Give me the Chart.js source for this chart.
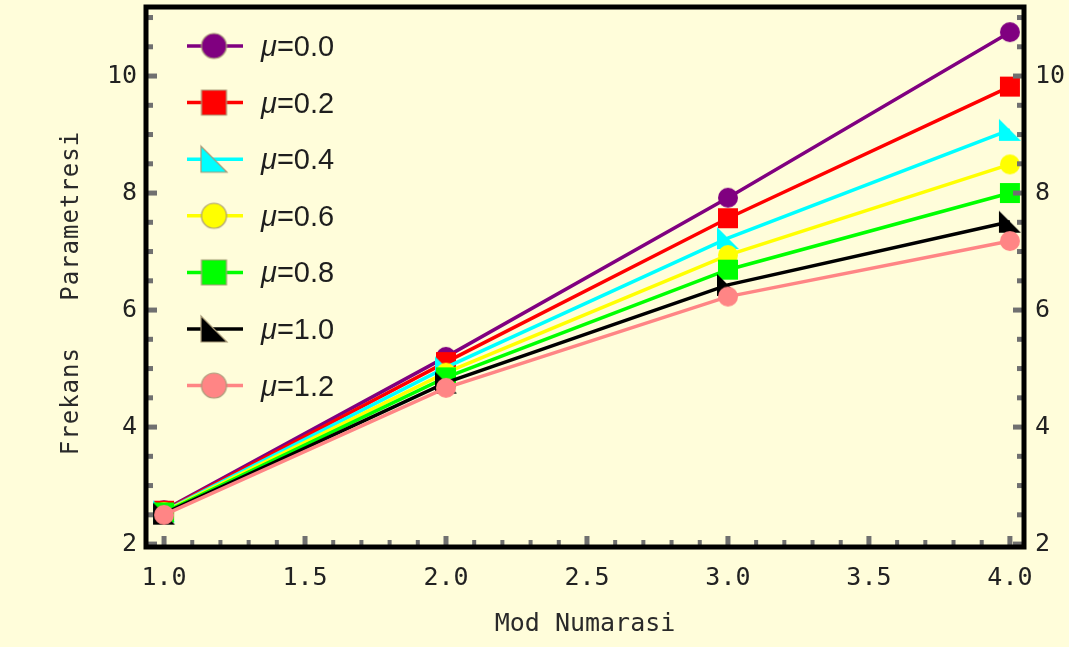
<!DOCTYPE html>
<html>
<head>
<meta charset="utf-8">
<script src="https://cdn.jsdelivr.net/npm/chart.js@4.4.1/dist/chart.umd.min.js"></script>
<style>
  html, body { margin: 0; padding: 0; background: #FFFDDA; }
  #wrap { width: 1069px; height: 647px; }
</style>
</head>
<body>
<div id="wrap"><canvas id="chart" width="1069" height="647"></canvas></div>
<script>
// ==================== DATA ====================
const modes = [1, 2, 3, 4];
const muLabels = ['0.0', '0.2', '0.4', '0.6', '0.8', '1.0', '1.2'];
const mu00 = [2.58, 5.20, 7.92, 10.75];
const mu02 = [2.57, 5.11, 7.57, 9.82];
const mu04 = [2.56, 5.02, 7.23, 9.08];
const mu06 = [2.55, 4.93, 6.94, 8.49];
const mu08 = [2.54, 4.85, 6.69, 8.00];
const mu10 = [2.52, 4.76, 6.43, 7.51];
const mu12 = [2.50, 4.67, 6.23, 7.18];
const xTicks = [1.0, 1.5, 2.0, 2.5, 3.0, 3.5, 4.0];
const yTicks = [2, 4, 6, 8, 10];

const series = [mu00, mu02, mu04, mu06, mu08, mu10, mu12];
const colors = ['#800080', '#ff0000', '#00ffff', '#ffff00', '#00ff00', '#000000', '#ff8585'];
const shapes = ['circle', 'square', 'tri', 'circle', 'square', 'tri', 'circle'];

// ==================== MARKERS ====================
function makeMarker(shape, color, size, outline) {
    const c = document.createElement('canvas');
    c.width = size + 4; c.height = size + 4;
    const g = c.getContext('2d');
    const o = 2, s = size;
    g.fillStyle = color;
    g.beginPath();
    if (shape === 'circle') {
        g.arc(o + s / 2, o + s / 2, s / 2, 0, Math.PI * 2);
    } else if (shape === 'square') {
        g.rect(o, o, s, s);
    } else {
        g.moveTo(o, o); g.lineTo(o, o + s); g.lineTo(o + s, o + s); g.closePath();
    }
    g.fill();
    if (outline) { g.lineWidth = 1.2; g.strokeStyle = '#a89a78'; g.stroke(); }
    return c;
}

const plotMarkers = shapes.map((sh, i) => makeMarker(sh, colors[i], sh === 'tri' ? 22 : 20, false));
const legendMarkers = shapes.map((sh, i) => makeMarker(sh, colors[i], sh === 'tri' ? 26 : 25, true));

// ==================== DECORATION PLUGIN ====================
const decor = {
    id: 'decor',
    afterDatasetsDraw(chart) {
        const ctx = chart.ctx, ca = chart.chartArea;
        const xs = chart.scales.x, ys = chart.scales.y;
        ctx.save();
        // ticks
        ctx.fillStyle = '#707070';
        for (let v = 2; v <= 11.01; v += 0.5) {
            const p = ys.getPixelForValue(v);
            const major = Math.abs(v / 2 - Math.round(v / 2)) < 1e-6;
            const len = major ? 11 : 7;
            ctx.fillRect(ca.left, p - 2.5, len, 5);
            ctx.fillRect(ca.right - len, p - 2.5, len, 5);
        }
        for (let k = 10; k <= 40; k++) {
            const v = k / 10;
            const p = xs.getPixelForValue(v);
            const major = k % 5 === 0;
            const len = major ? 11 : 7;
            const w = major ? 5 : 4;
            ctx.fillRect(p - w / 2, ca.bottom - len, w, len);
        }
        // frame
        ctx.strokeStyle = '#000';
        ctx.lineWidth = 5;
        ctx.strokeRect(ca.left, ca.top, ca.right - ca.left, ca.bottom - ca.top);

        // legend
        chart.data.datasets.forEach((ds, i) => {
            const y = 46 + i * 56.6;
            ctx.strokeStyle = ds.borderColor;
            ctx.lineWidth = 3.5;
            ctx.beginPath(); ctx.moveTo(187, y); ctx.lineTo(243, y); ctx.stroke();
            const m = legendMarkers[i];
            ctx.drawImage(m, 214 - m.width / 2, y - m.height / 2);
            ctx.fillStyle = '#1e1e1e';
            ctx.textBaseline = 'middle';
            ctx.font = 'italic 29px "Liberation Sans", Arial, sans-serif';
            ctx.fillText('\u03bc', 261, y + 2);
            const w = ctx.measureText('\u03bc').width;
            ctx.font = '29px "Liberation Sans", Arial, sans-serif';
            ctx.fillText('=' + muLabels[i], 261 + w, y + 2);
        });

        // y title
        ctx.translate(72, 293);
        ctx.rotate(-Math.PI / 2);
        ctx.font = '24px "DejaVu Sans Mono", monospace';
        ctx.letterSpacing = '1px';
        ctx.fillStyle = '#2a2a2a';
        ctx.textAlign = 'center';
        ctx.textBaseline = 'middle';
        ctx.fillText('Frekans   Parametresi', 0, 0);
        ctx.restore();
    }
};

// ==================== CHART ====================
const monoFont = { family: '"DejaVu Sans Mono", monospace', size: 25 };

const datasets = series.map((vals, i) => ({
    label: '\u03bc=' + muLabels[i],
    data: modes.map((m, j) => ({ x: m, y: vals[j] })),
    borderColor: colors[i],
    backgroundColor: colors[i],
    borderWidth: 3.5,
    pointStyle: plotMarkers[i],
    pointRadius: 10,
    pointHoverRadius: 10,
    tension: 0,
    clip: false,
    order: series.length - i
}));

const noPad = s => { s.paddingTop = 0; s.paddingBottom = 0; s.paddingLeft = 0; s.paddingRight = 0; };

const yScale = (pos, width, pad) => ({
    type: 'linear',
    position: pos,
    min: 1.95,
    max: 11.18,
    afterBuildTicks: s => { s.ticks = yTicks.map(v => ({ value: v })); },
    afterFit: s => { s.width = width; noPad(s); },
    ticks: { font: monoFont, color: '#222', padding: pad, callback: v => String(v) },
    grid: { display: false, drawTicks: false },
    border: { display: false }
});

new Chart(document.getElementById('chart').getContext('2d'), {
    type: 'line',
    data: { datasets },
    options: {
        responsive: false,
        animation: false,
        devicePixelRatio: 1,
        layout: { autoPadding: false, padding: { top: 7, left: 0, right: 0, bottom: 0 } },
        plugins: { legend: { display: false }, tooltip: { enabled: false } },
        scales: {
            x: {
                type: 'linear',
                min: 0.936,
                max: 4.05,
                afterBuildTicks: s => { s.ticks = xTicks.map(v => ({ value: v })); },
                afterFit: s => { s.height = 100; noPad(s); },
                ticks: { font: monoFont, color: '#222', padding: 16, maxRotation: 0, callback: v => Number(v).toFixed(1) },
                grid: { display: false, drawTicks: false },
                border: { display: false },
                title: { display: true, text: 'Mod Numarasi', font: monoFont, color: '#2a2a2a', padding: { top: 0, bottom: 8 } }
            },
            y: yScale('left', 146, 9),
            y2: yScale('right', 45, 11)
        }
    },
    plugins: [decor]
});
</script>
</body>
</html>
